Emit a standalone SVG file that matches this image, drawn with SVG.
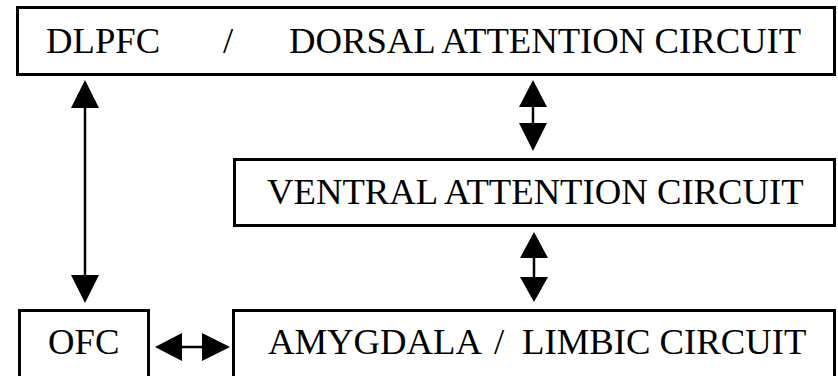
<svg xmlns="http://www.w3.org/2000/svg" width="838" height="376" viewBox="0 0 838 376">
<style>
.box{fill:#fff;stroke:#000;stroke-width:3}
.t{font-family:"Liberation Serif","Times New Roman",serif;font-size:36.7px;fill:#000}
.ln{stroke:#000;stroke-width:2.5;fill:none}
.hd{fill:#000}
</style>
<rect width="838" height="376" fill="#fff"/>
<g id="dlpfc">
<rect class="box" x="17.5" y="7.5" width="817" height="67"/>
<text class="t" x="46" y="53">DLPFC</text>
<text class="t" x="223" y="53">/</text>
<text class="t" x="289" y="53">DORSAL ATTENTION CIRCUIT</text>
</g>
<g id="ventral">
<rect class="box" x="234.5" y="159.5" width="600" height="66"/>
<text class="t" x="267" y="204">VENTRAL ATTENTION CIRCUIT</text>
</g>
<g id="ofc">
<rect class="box" x="19.5" y="310.5" width="129" height="80"/>
<text class="t" x="48" y="354">OFC</text>
</g>
<g id="amygdala">
<rect class="box" x="233.5" y="310.5" width="601" height="80"/>
<text class="t" x="268" y="354">AMYGDALA</text>
<text class="t" x="494" y="354">/</text>
<text class="t" x="522" y="354">LIMBIC CIRCUIT</text>
</g>
<g id="connectors">
<line class="ln" x1="85" y1="105" x2="85" y2="278"/>
<polygon class="hd" points="85,80 71,108 99,108"/>
<polygon class="hd" points="85,303 71,275 99,275"/>
<line class="ln" x1="533" y1="105" x2="533" y2="125"/>
<polygon class="hd" points="533,80 519,107 547,107"/>
<polygon class="hd" points="533,151 519,123 547,123"/>
<line class="ln" x1="534" y1="256" x2="534" y2="279"/>
<polygon class="hd" points="534,232 520,258 548,258"/>
<polygon class="hd" points="534,302 520,277 548,277"/>
<line class="ln" x1="180" y1="347" x2="204" y2="347"/>
<polygon class="hd" points="155,347 182,333 182,361"/>
<polygon class="hd" points="230,347 202,333 202,361"/>
</g>
</svg>
